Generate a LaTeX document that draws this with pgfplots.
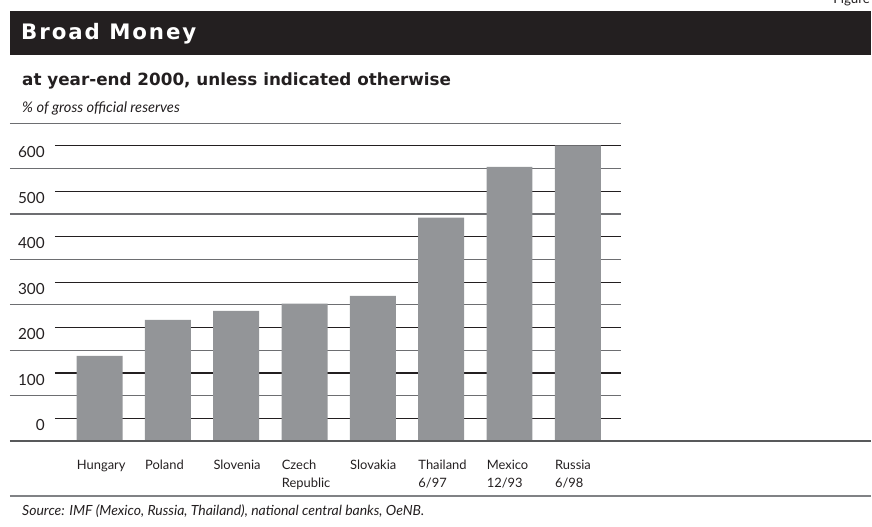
\documentclass[border=0pt]{standalone}
\usepackage{pgfplots}
\pgfplotsset{compat=1.18}
\usepackage{pgfplotstable}
\usepackage{fontspec}
\setmainfont{Lato}
\newfontfamily\headfont{DejaVu Sans}
\definecolor{barc}{HTML}{939598}
\definecolor{ink}{HTML}{231F20}
\definecolor{gridg}{HTML}{6D6E71}
\definecolor{sepg}{HTML}{808285}
\definecolor{baseg}{HTML}{58595B}

\pgfplotstableread{
x v
0 138
1 217
2 237
3 253
4 270
5 442
6 554
7 601
}\datatable

\begin{document}
\begin{tikzpicture}
\begin{scope}[x=0.75pt,y=-0.75pt]
\path[use as bounding box] (0,0) rectangle (872,527);
\begin{scope}
\clip (0,0) rectangle (872,527);
\node[anchor=base west, inner sep=0, text=ink, font=\fontsize{10pt}{12pt}\selectfont] at (834,4) {Figure};
\end{scope}
\fill[ink] (10,11) rectangle (872,55);
\node[anchor=base west, inner sep=0, text=white, font=\headfont\fontsize{16pt}{18pt}\selectfont\bfseries\addfontfeatures{LetterSpace=9}] at (21,40) {Broad Money};
\node[anchor=base west, inner sep=0, text=ink, font=\headfont\fontsize{12.6pt}{15pt}\selectfont\bfseries] at (22,86) {at year-end 2000, unless indicated otherwise};
\node[anchor=base west, inner sep=0, text=ink, font=\fontsize{11pt}{13pt}\selectfont\itshape] at (22,113) {\% of gross official reserves};
\node[anchor=base west, inner sep=0, text=ink, font=\fontsize{10.5pt}{12pt}\selectfont\itshape] at (22,516) {Source: IMF (Mexico, Russia, Thailand), national central banks, OeNB.};
\draw[sepg, line width=1.5pt] (10,497) -- (872,497);
\end{scope}

\begin{axis}[
  at={(7.5pt,-331.275pt)}, anchor=south west,
  scale only axis, width=459pt, height=238.8pt,
  xmin=-1.311, xmax=7.636, ymin=0, ymax=700,
  clip=false,
  axis line style={draw=none}, tick style={draw=none}, major tick length=0pt,
  ytick={50,150,250,350,450,550,650},
  yticklabels={0,100,200,300,400,500,600},
  yticklabel style={anchor=east, inner sep=0pt, xshift=26.25pt, yshift=-4.9pt, text=ink, font=\fontsize{11.5pt}{14pt}\selectfont},
  xtick={0,1,2,3,4,5,6,7},
  xticklabels={Hungary, Poland, Slovenia, {Czech\\Republic}, Slovakia, {Thailand\\6/97}, {Mexico\\12/93}, {Russia\\6/98}},
  xticklabel style={anchor=north west, align=left, inner sep=0pt, xshift=-17.25pt, yshift=-14pt, text=ink, font=\fontsize{9.7pt}{13.5pt}\selectfont},
  /pgf/number format/assume math mode=true,
]
\pgfplotsinvokeforeach{100,200,...,700}{\draw[gridg, line width=0.85pt] (axis cs:-1.311,#1) -- (axis cs:7.636,#1);}
\pgfplotsinvokeforeach{50,150,...,650}{\draw[ink, line width=0.85pt] (axis cs:-0.6535,#1) -- (axis cs:7.636,#1);}
\addplot[ybar, fill=barc, draw=none, bar width=34.5pt] table[x=x, y expr=\thisrow{v}+50] {\datatable};
\end{axis}

\begin{scope}[x=0.75pt,y=-0.75pt]
\draw[baseg, line width=1.5pt] (10,441.7) -- (872,441.7);
\end{scope}
\end{tikzpicture}
\end{document}
